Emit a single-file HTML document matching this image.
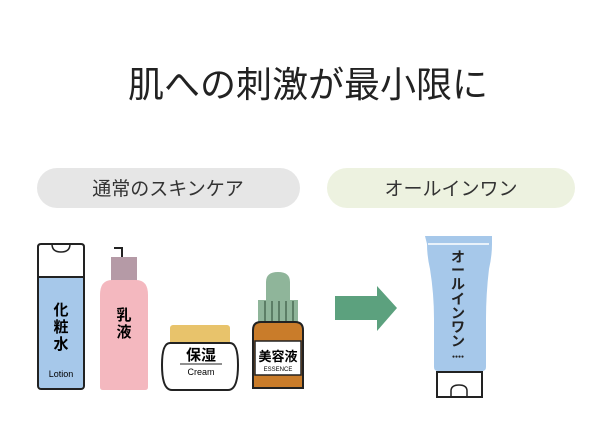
<!DOCTYPE html>
<html><head><meta charset="utf-8"><style>
html,body{margin:0;padding:0;background:#fff;}
svg{display:block;font-family:"Liberation Sans","Noto Sans CJK JP",sans-serif;}
</style></head><body>
<svg width="612" height="427" viewBox="0 0 612 427">
<text x="308" y="97" font-size="36" text-anchor="middle" fill="#222">肌への刺激が最小限に</text>
<rect x="37" y="168" width="263" height="40" rx="20" fill="#e6e6e6"/>
<text x="168" y="195" font-size="19" text-anchor="middle" fill="#333">通常のスキンケア</text>
<rect x="327" y="168" width="248" height="40" rx="20" fill="#edf2e0"/>
<text x="451" y="195" font-size="19" text-anchor="middle" fill="#333">オールインワン</text>
<g stroke="#222" stroke-width="2">
<rect x="38" y="275" width="46" height="114" rx="3" fill="#a6c8ea"/>
<path d="M38 277 V247 q0-3 3-3 h40 q3 0 3 3 V277 Z" fill="#fff"/>
<path d="M52 244 q0 8 9 8 q9 0 9-8" fill="none" stroke-width="1.5"/>
<path d="M114 248 h8 v10" fill="none"/>
<rect x="111" y="257" width="26" height="24" fill="#b59aa6" stroke="none"/>
<path d="M100 295 q0-15 12-15 h24 q12 0 12 15 v92 q0 3-3 3 h-42 q-3 0-3-3 Z" fill="#f4b8bf" stroke="none"/>
<rect x="170" y="325" width="60" height="20" rx="3" fill="#e8c36b" stroke="none"/>
<path d="M170 343 h60 q8 0 8 22 q0 25-10 25 h-56 q-10 0-10-25 q0-22 8-22Z" fill="#fff"/>
<path d="M266 300 v-18 q0-10 12-10 q12 0 12 10 v18 Z" fill="#8fb59a" stroke="none"/>
<rect x="258" y="300" width="40" height="22" fill="#8fb59a" stroke="none"/>
<path d="M253 330 q0-8 8-8 h34 q8 0 8 8 v58 h-50 Z" fill="#c97c2a"/>
<rect x="255" y="341" width="46" height="34" fill="#fff" stroke-width="1.5"/>
<path d="M437 372 h45 v25 h-45 Z" fill="#fff"/>
</g>
<g stroke="#3a5a44" stroke-width="1.5" opacity=".8">
<line x1="265" y1="301" x2="265" y2="321"/><line x1="272" y1="301" x2="272" y2="321"/><line x1="279" y1="301" x2="279" y2="321"/><line x1="286" y1="301" x2="286" y2="321"/><line x1="293" y1="301" x2="293" y2="321"/>
</g>
<text x="61" y="315" font-size="15" text-anchor="middle" font-weight="bold">化</text>
<text x="61" y="332" font-size="15" text-anchor="middle" font-weight="bold">粧</text>
<text x="61" y="349" font-size="15" text-anchor="middle" font-weight="bold">水</text>
<text x="61" y="377" font-size="9" text-anchor="middle">Lotion</text>
<text x="124" y="320" font-size="15" text-anchor="middle" font-weight="bold">乳</text>
<text x="124" y="337" font-size="15" text-anchor="middle" font-weight="bold">液</text>
<text x="201" y="360" font-size="15" text-anchor="middle" font-weight="bold">保湿</text>
<line x1="180" y1="364" x2="222" y2="364" stroke="#222" stroke-width="1"/>
<text x="201" y="375" font-size="9" text-anchor="middle">Cream</text>
<text x="278" y="361" font-size="13" text-anchor="middle" font-weight="bold">美容液</text>
<text x="278" y="371" font-size="6" text-anchor="middle">ESSENCE</text>
<path d="M335 296 h42 v-10 l20 22 l-20 23 v-11 h-42 Z" fill="#5ca17e"/>
<path d="M425 236 h67 v8 q0 12-3 25 q-3 25-3 50 v48 q0 4-4 4 h-44 q-4 0-4-4 v-48 q0-25-4-50 q-3-13-3-25 Z" fill="#a6c8ea"/>
<line x1="428" y1="244" x2="489" y2="244" stroke="#fff" stroke-width="1.5"/>
<path d="M451 397 v-6 q0-6 8-6 q8 0 8 6 v6" fill="none" stroke="#222" stroke-width="1.5"/>
<g font-size="14" text-anchor="middle" font-weight="bold" fill="#222">
<text x="458" y="262">オ</text><text x="458" y="275">ー</text><text x="458" y="289">ル</text><text x="458" y="304">イ</text><text x="458" y="318">ン</text><text x="458" y="332">ワ</text><text x="458" y="346">ン</text>
</g>
<text x="458" y="358" font-size="5" text-anchor="middle" fill="#222">●●●●</text>
</svg>
</body></html>
